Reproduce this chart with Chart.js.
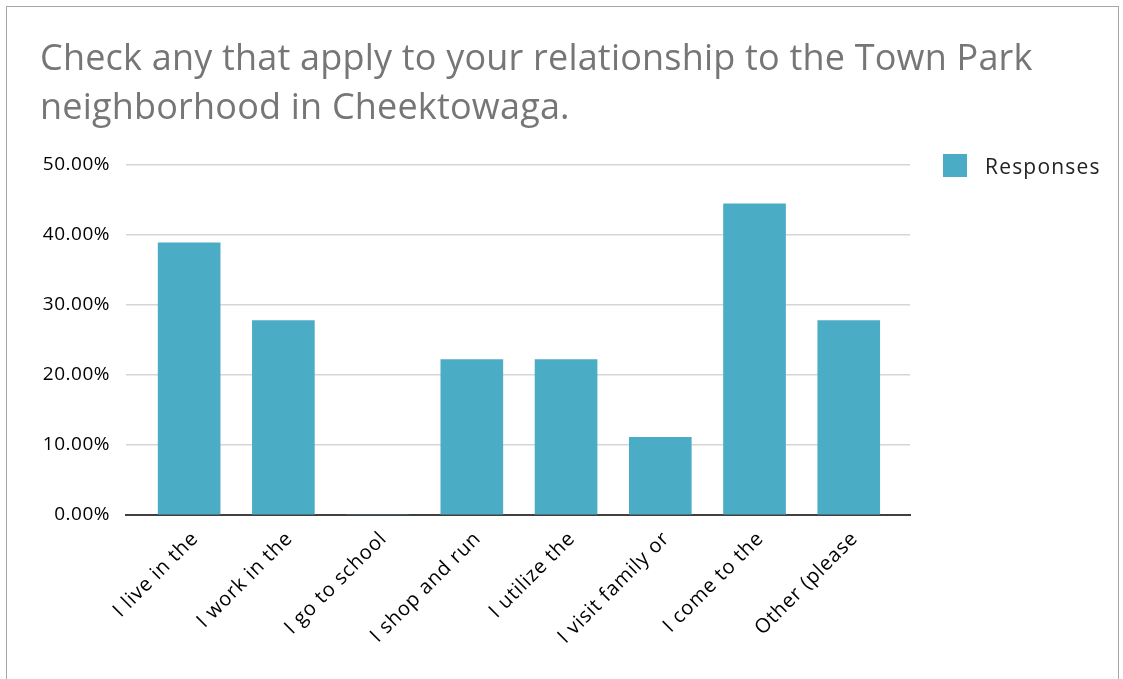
<!DOCTYPE html>
<html>
<head>
<meta charset="utf-8">
<script src="https://cdn.jsdelivr.net/npm/chart.js@4/dist/chart.umd.min.js"></script>
<style>
  body { margin: 0; background: #fff; }
  #frame { position: absolute; left: 6px; top: 6px; width: 1111px; height: 700px; border: 1px solid #a6a6a6; }
  #wrap { position: absolute; left: 0; top: 0; width: 1123px; height: 679px; }
</style>
</head>
<body>
<div id="frame"></div>
<div id="wrap"><canvas id="myChart" width="1123" height="679"></canvas></div>
<script>
const categorias = ["I live in the", "I work in the", "I go to school", "I shop and run", "I utilize the", "I visit family or", "I come to the", "Other (please"];
const respuestas = [38.89, 27.78, 0, 22.22, 22.22, 11.11, 44.44, 27.78];
const titulo = ["Check any that apply to your relationship to the Town Park", "neighborhood in Cheektowaga."];
const serie = "Responses";
const colorBarra = "#4bacc6";

// titulo en dos lineas, mas ancho que el area del grafico
const tituloPlugin = {
    id: "tituloPlugin",
    afterDraw(chart) {
        const ctx = chart.ctx;
        ctx.save();
        ctx.fillStyle = "#767676";
        ctx.font = "36px 'Open Sans'";
        ctx.letterSpacing = "0.2px";
        ctx.textBaseline = "alphabetic";
        titulo.forEach((linea, i) => ctx.fillText(linea, 40, 70 + i * 49));
        ctx.restore();
    }
};

// leyenda a la derecha del area del grafico
const leyenda = {
    id: "leyenda",
    afterDraw(chart) {
        const ctx = chart.ctx;
        const x = chart.chartArea.right + 33;
        const y = chart.chartArea.top - 11;
        ctx.save();
        ctx.fillStyle = colorBarra;
        ctx.fillRect(x, y, 24, 23);
        ctx.fillStyle = "#222";
        ctx.font = "21px 'Open Sans'";
        ctx.letterSpacing = "1.2px";
        ctx.textBaseline = "alphabetic";
        ctx.fillText(serie, x + 42, y + 20);
        ctx.restore();
    }
};

// etiquetas de los ejes con algo de espacio entre letras
function espaciar(scale, ctx, valor) {
    const original = scale.drawLabels.bind(scale);
    scale.drawLabels = (area) => {
        ctx.save();
        ctx.letterSpacing = valor;
        original(area);
        ctx.restore();
    };
}
const espaciado = {
    id: "espaciado",
    beforeDraw(chart) {
        if (chart._espaciado) return;
        espaciar(chart.scales.x, chart.ctx, "0.8px");
        espaciar(chart.scales.y, chart.ctx, "0.5px");
        chart._espaciado = true;
    }
};

const ctx = document.getElementById("myChart").getContext("2d");

new Chart(ctx, {
    type: "bar",
    data: {
        datasets: [{
            label: serie,
            data: respuestas.map((v, i) => ({ x: i, y: v })),
            backgroundColor: colorBarra,
            barThickness: 62
        }]
    },
    options: {
        responsive: false,
        animation: false,
        layout: { padding: { left: 40, right: 213, top: 165, bottom: 0 } },
        plugins: {
            legend: { display: false },
            tooltip: { enabled: false },
            title: { display: false }
        },
        scales: {
            x: {
                type: "linear",
                offset: false,
                min: -0.67,
                max: 7.65,
                grid: { display: false },
                border: { color: "#404040", width: 2 },
                afterBuildTicks(scale) {
                    scale.ticks = categorias.map((c, i) => ({ value: i }));
                },
                ticks: {
                    autoSkip: false,
                    color: "#000",
                    font: { family: "'Open Sans'", size: 20 },
                    maxRotation: 45,
                    minRotation: 45,
                    padding: 4,
                    labelOffset: 6,
                    callback: (v) => categorias[v]
                },
                afterFit(scale) { scale.height = 164; }
            },
            y: {
                min: 0,
                max: 50,
                border: { display: false },
                grid: { color: "#d6d6d6", lineWidth: 1.5, drawTicks: false },
                ticks: {
                    stepSize: 10,
                    color: "#000",
                    font: { family: "'Open Sans'", size: 19 },
                    padding: 16,
                    callback: (v) => v.toFixed(2) + "%"
                },
                afterFit(scale) { scale.width = 86; }
            }
        }
    },
    plugins: [tituloPlugin, leyenda, espaciado]
});
</script>
</body>
</html>
